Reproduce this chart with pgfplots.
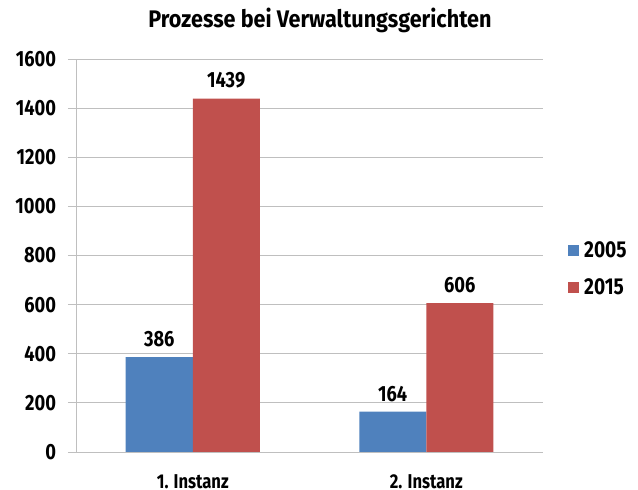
\documentclass[border=0pt]{standalone}
\usepackage{fontspec}
\setmainfont{Fira Sans}[FakeStretch=0.83]
\newfontfamily\titlefont{Fira Sans}[FakeStretch=0.9]
\usepackage{pgfplots}
\pgfplotsset{compat=1.18}
\definecolor{cblue}{HTML}{4F81BD}
\definecolor{cred}{HTML}{C0504D}
\definecolor{cgrid}{HTML}{BFBFBF}
\begin{document}
\begin{tikzpicture}
\begin{axis}[
  scale only axis, width=467bp, height=393bp,
  anchor=south west, at={(0,0)},
  ybar=0pt, bar width=67bp,
  xmin=-0.5, xmax=1.5, ymin=0, ymax=1600,
  ytick={0,200,...,1600},
  xtick={0,1}, xticklabels={1. Instanz, 2. Instanz},
  extra x ticks={-0.5,0.5,1.5}, extra x tick labels={},
  extra x tick style={major tick length=6bp, tick style={draw=cgrid, line width=0.8pt}, grid=none},
  x tick style={draw=none},
  tick align=outside,
  major tick length=8bp,
  y tick style={draw=cgrid, line width=0.8pt},
  ymajorgrids, grid style={cgrid, line width=0.8pt},
  axis line style={cgrid, line width=0.8pt},
  axis x line*=bottom, axis y line*=left,
  font=\bfseries\fontsize{22bp}{24bp}\selectfont,
  /pgf/number format/assume math mode=true,
  /pgf/number format/1000 sep={},
  yticklabel style={font=\bfseries\fontsize{22bp}{24bp}\selectfont, xshift=-8.5bp},
  xticklabel style={font=\bfseries\fontsize{20bp}{22bp}\selectfont, yshift=-13bp, inner sep=1bp},
  nodes near coords,
  every node near coord/.append style={font=\bfseries\fontsize{22bp}{24bp}\selectfont, yshift=6.5bp},
  legend style={at={(axis description cs:1.0535,0.4656)}, anchor=west, draw=none, fill=none,
    row sep=16bp, font=\bfseries\fontsize{23bp}{25bp}\selectfont, inner sep=0pt,
    /tikz/every odd column/.append style={column sep=3bp}},
  legend cell align=left,
  legend image code/.code={\fill[#1] (0bp,-5.5bp) rectangle (11bp,5.5bp);},
]
\addplot[fill=cblue, draw=none] coordinates {(0,386) (1,164)};
\addplot[fill=cred, draw=none] coordinates {(0,1439) (1,606)};
\legend{2005,2015}
\end{axis}
\node[font=\titlefont\bfseries\fontsize{24bp}{26bp}\selectfont] at (244bp,432bp) {Prozesse bei Verwaltungsgerichten};
\path[use as bounding box] (-76bp,-37bp) rectangle (562bp,452bp);
\end{tikzpicture}
\end{document}
